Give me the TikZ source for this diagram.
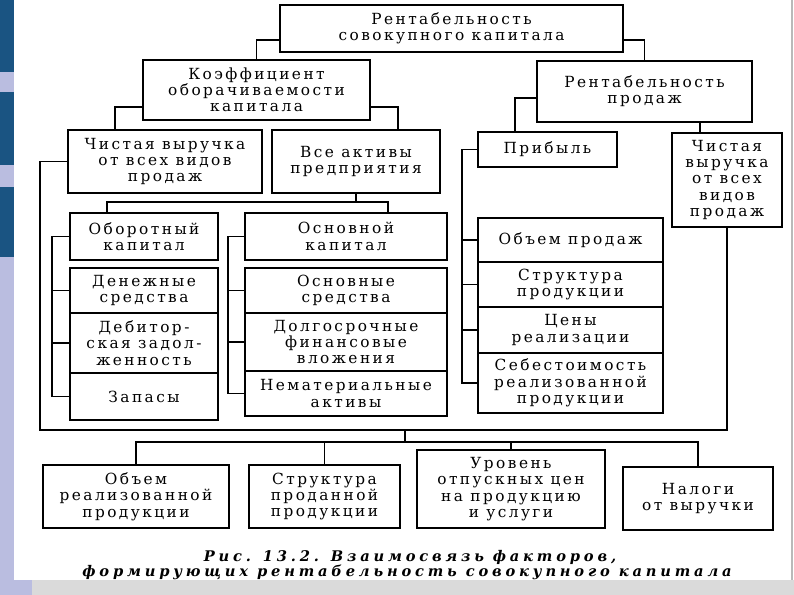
\documentclass[tikz,border=0pt]{standalone}
\usepackage{fontspec}
\setmainfont{DejaVu Serif}
\newfontfamily\boxfont[LetterSpace=16]{DejaVu Serif}
\newfontfamily\capfont[LetterSpace=26]{DejaVu Serif}
\usetikzlibrary{positioning,calc}
\definecolor{slideblue}{RGB}{26,84,130}
\definecolor{slidelilac}{RGB}{186,189,224}
\definecolor{slidegrey}{RGB}{218,218,218}

\tikzset{
 blk/.style={draw, line width=1.4pt, align=center, inner sep=1pt,
  font=\boxfont\fontsize{11.5}{12.2}\selectfont},
 sz/.style 2 args={minimum width=#1*0.75pt, minimum height=#2*0.75pt},
 lnk/.style={line width=1.4pt},
 capline/.style={anchor=base, font=\capfont\bfseries\itshape\fontsize{11}{12}\selectfont}
}

\begin{document}
\begin{tikzpicture}[x=0.75pt, y=-0.75pt]
\useasboundingbox (0,0) rectangle (794,595);

 %slide frame:
 \fill[white] (0,0) rectangle (794,595);
 \fill[slidelilac] (0,0) rectangle (14,595);
 \foreach \a/\b in {0/72, 92/165, 187/257}
  \fill[slideblue] (0,\a) rectangle (14,\b);
 \fill[slidelilac] (0,580) rectangle (32,595);
 \fill[slidegrey] (32,580) rectangle (794,595);
 \draw[slidegrey!85!black, line width=1pt] (792,0) -- (792,580);

 %upper levels
 \node[blk, sz={343}{47}] (top) at (451.5,28.5) {Рентабельность\\совокупного капитала};
 \node[blk, sz={227}{60}] (koef) at (256.5,90) {Коэффициент\\оборачиваемости\\капитала};
 \node[blk, sz={215}{61}] (rprod) at (644.5,91.5) {Рентабельность\\продаж};
 \node[blk, sz={194}{63}] (lrev) at (165,161.5) {Чистая выручка\\от всех видов\\продаж};
 \node[blk, sz={168}{63}] (assets) at (356,161.5) {Все активы\\предприятия};
 \node[blk, sz={139}{35}] (profit) at (547.5,149.5) {Прибыль};
 \node[blk, sz={110}{94}] (rrev) at (727,180) {Чистая\\выручка\\от всех\\видов\\продаж};

 %capital
 \node[blk, sz={148}{47}] (work) at (144,236.5) {Оборотный\\капитал};
 \node[blk, sz={202}{47}] (fixed) at (346,236.5) {Основной\\капитал};
 \node[blk, sz={148}{45}] (cash) at (144,290.5) {Денежные\\средства};
 \node[blk, sz={148}{60}] (debt) at (144,343) {Дебитор-\\ская задол-\\женность};
 \node[blk, sz={148}{47}] (stock) at (144,396.5) {Запасы};
 \node[blk, sz={202}{45}] (fa) at (346,290.5) {Основные\\средства};
 \node[blk, sz={202}{58}] (ltinv) at (346,342) {Долгосрочные\\финансовые\\вложения};
 \node[blk, sz={202}{45}] (intang) at (346,393.5) {Нематериальные\\активы};

 %profit factors
 \node[blk, sz={185}{44}] (vol) at (570.5,240) {Объем продаж};
 \node[blk, sz={185}{45}] (struct) at (570.5,284.5) {Структура\\продукции};
 \node[blk, sz={185}{46}] (price) at (570.5,330) {Цены\\реализации};
 \node[blk, sz={185}{60}] (cost) at (570.5,383) {Себестоимость\\реализованной\\продукции};

 %bottom row
 \node[blk, sz={186}{63}] (b1) at (136,496.5) {Объем\\реализованной\\продукции};
 \node[blk, sz={151}{63}] (b2) at (324.5,496.5) {Структура\\проданной\\продукции};
 \node[blk, sz={188}{78}] (b3) at (511,489) {Уровень\\отпускных цен\\на продукцию\\и услуги};
 \node[blk, sz={150}{63}] (b4) at (698,498.5) {Налоги\\от выручки};

 %links
 \draw[lnk] (top.west |- 0,40) -| (koef.north);
 \draw[lnk] (top.east |- 0,40) -| (rprod.north);
 \draw[lnk] (koef.west |- 0,107) -| (lrev.north -| 115,0);
 \draw[lnk] (koef.east |- 0,107) -| (assets.north -| 398,0);
 \draw[lnk] (rprod.west |- 0,98) -| (profit.north -| 515,0);
 \draw[lnk] (rprod.south -| 700,0) -- (rrev.north -| 700,0);

 \draw[lnk] (assets.south) -- (assets.south |- 0,202);
 \draw[lnk] (work.north -| 107,0) -- (107,202) -- (388,202) -- (fixed.north -| 388,0);

 \draw[lnk] (work.west) -| (stock.west -| 52,0) -- (stock.west);
 \foreach \c in {cash,debt} \draw[lnk] (\c.west -| 52,0) -- (\c.west);
 \draw[lnk] (fixed.west) -| (intang.west -| 228,0) -- (intang.west);
 \foreach \c in {fa,ltinv} \draw[lnk] (\c.west -| 228,0) -- (\c.west);
 \draw[lnk] (profit.west) -| (cost.west -| 462,0) -- (cost.west);
 \foreach \c in {vol,struct,price} \draw[lnk] (\c.west -| 462,0) -- (\c.west);

 \coordinate (sum) at (405,430);
 \coordinate (hub) at (405,442);
 \draw[lnk] (lrev.west) -| (40,430) -| (rrev.south);
 \draw[lnk] (sum) -- (hub);
 \draw[lnk] (b1.north) |- (hub) -| (b4.north);
 \foreach \c in {b2,b3} \draw[lnk] (\c.north) -- (\c.north |- hub);

 %caption
 \node[capline] (cap1) at (410,562) {Рис. 13.2. Взаимосвязь факторов,};
 \node[capline] (cap2) at (407,577) {формирующих рентабельность совокупного капитала};
\end{tikzpicture}
\end{document}
